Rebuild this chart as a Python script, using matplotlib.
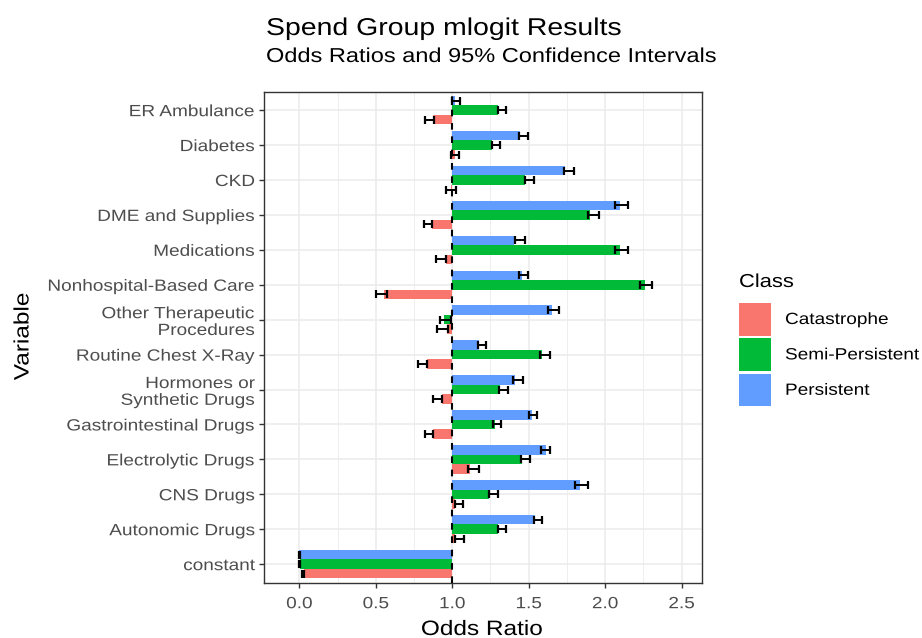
import matplotlib
matplotlib.use("Agg")
import matplotlib.pyplot as plt
from matplotlib.patches import Rectangle
from matplotlib.patheffects import AbstractPathEffect
from matplotlib.transforms import Affine2D
import numpy as np

plt.rcParams['font.family'] = ['Liberation Sans', 'DejaVu Sans']

variables = ["ER Ambulance", "Diabetes", "CKD", "DME and Supplies", "Medications",
             "Nonhospital-Based Care", "Other Therapeutic\nProcedures", "Routine Chest X-Ray",
             "Hormones or\nSynthetic Drugs", "Gastrointestinal Drugs", "Electrolytic Drugs",
             "CNS Drugs", "Autonomic Drugs", "constant"]

classes = ["Catastrophe", "Semi-Persistent", "Persistent"]
colors = ["#F8766D", "#00BA38", "#619CFF"]

# Odds ratio estimates
or_catastrophe = [0.874, 1.015, 0.990, 0.870, 0.957, 0.554, 0.967, 0.837, 0.930, 0.874, 1.113, 1.020, 1.020, 0.028]
or_semi        = [1.300, 1.261, 1.478, 1.902, 2.098, 2.261, 0.946, 1.587, 1.315, 1.278, 1.457, 1.239, 1.300, 0.002]
or_persistent  = [1.020, 1.441, 1.735, 2.098, 1.402, 1.457, 1.652, 1.174, 1.413, 1.522, 1.613, 1.837, 1.543, 0.001]

# 95% CI lower / upper
lo_catastrophe = [0.822, 0.989, 0.957, 0.815, 0.896, 0.504, 0.902, 0.778, 0.874, 0.822, 1.104, 1.017, 1.017, 0.020]
hi_catastrophe = [0.880, 1.043, 1.022, 0.870, 0.957, 0.576, 0.974, 0.837, 0.930, 0.874, 1.174, 1.070, 1.076, 0.028]
lo_semi        = [1.300, 1.257, 1.478, 1.887, 2.065, 2.228, 0.917, 1.576, 1.309, 1.267, 1.450, 1.239, 1.300, 0.000]
hi_semi        = [1.352, 1.313, 1.533, 1.957, 2.148, 2.309, 0.989, 1.637, 1.365, 1.322, 1.507, 1.300, 1.352, 0.005]
lo_persistent  = [1.000, 1.435, 1.728, 2.065, 1.409, 1.435, 1.626, 1.167, 1.398, 1.500, 1.583, 1.800, 1.533, 0.000]
hi_persistent  = [1.050, 1.496, 1.793, 2.148, 1.474, 1.496, 1.700, 1.222, 1.463, 1.554, 1.641, 1.891, 1.587, 0.005]

xticks = [0.0, 0.5, 1.0, 1.5, 2.0, 2.5]
xtick_labels = ["0.0", "0.5", "1.0", "1.5", "2.0", "2.5"]


class Stretch(AbstractPathEffect):
    """Widen glyphs along the text direction (reference font is wider)."""
    def __init__(self, sx=1.17, anchor="left"):
        super().__init__()
        self.sx = sx
        self.anchor = anchor

    def draw_path(self, renderer, gc, tpath, affine, rgbFace=None):
        try:
            ext = tpath.get_extents()
            x0, x1 = ext.x0, ext.x1
        except Exception:
            x0, x1 = 0.0, 0.0
        if self.anchor == "right":
            c = x1
        elif self.anchor == "center":
            c = (x0 + x1) / 2
        else:
            c = 0.0
        t = Affine2D().translate(-c, 0).scale(self.sx, 1).translate(c, 0) + affine
        renderer.draw_path(gc, tpath, t, rgbFace)


SX = 1.17
W, H = 922, 638
fig = plt.figure(figsize=(W / 100, H / 100), dpi=100)
ax = fig.add_axes([264 / W, 1 - 583 / H, (701.5 - 264) / W, (583 - 92) / H])

n = len(variables)
ypos = np.arange(n)
bh = 0.272
series = [
    (or_persistent, lo_persistent, hi_persistent, colors[2], -bh),
    (or_semi, lo_semi, hi_semi, colors[1], 0.0),
    (or_catastrophe, lo_catastrophe, hi_catastrophe, colors[0], bh),
]

# grid
for v in np.arange(0, 2.51, 0.25):
    ax.axvline(v, color="#EBEBEB", lw=1.1 if (v * 2) % 1 == 0 else 0.6, zorder=0)
for y in ypos:
    ax.axhline(y, color="#EBEBEB", lw=1.1, zorder=0)

for est, lo, hi, col, off in series:
    est = np.array(est); lo = np.array(lo); hi = np.array(hi)
    ax.barh(ypos + off, est - 1.0, left=1.0, height=bh, color=col, edgecolor="none", zorder=2)
    ax.errorbar((lo + hi) / 2, ypos + off, xerr=(hi - lo) / 2, fmt="none",
                ecolor="black", elinewidth=1.4, capsize=3.2, capthick=1.6, zorder=4)

ax.axvline(1.0, color="black", lw=1.5, linestyle=(0, (3.2, 3.2)), zorder=3)

ax.set_xlim(-0.231, 2.63)
ax.set_ylim(n - 1 + 0.54, -0.52)
ax.set_yticks(ypos)
ax.set_yticklabels(variables, fontsize=11.7, color="#4D4D4D", linespacing=1.15)
ax.set_xticks(xticks)
ax.set_xticklabels(xtick_labels, fontsize=11.7, color="#4D4D4D")
ax.tick_params(axis="both", length=3.5, width=1.0, color="#333333")
ax.tick_params(axis="y", pad=3)
ax.tick_params(axis="x", pad=6)
for lbl in ax.get_yticklabels():
    lbl.set_path_effects([Stretch(SX, "right")])
for lbl in ax.get_xticklabels():
    lbl.set_path_effects([Stretch(SX, "center")])
for s in ax.spines.values():
    s.set_color("#333333")
    s.set_linewidth(1.0)

fig.text(482 / W, 1 - 635 / H, "Odds Ratio", fontsize=15, ha="center", va="baseline",
         path_effects=[Stretch(SX, "center")])
fig.text(23 / W, 1 - 336.5 / H, "Variable", fontsize=15, ha="center", va="center", rotation=90,
         path_effects=[Stretch(SX, "center")])

fig.text(266 / W, 1 - 35 / H, "Spend Group mlogit Results", fontsize=17.5, ha="left", va="baseline",
         path_effects=[Stretch(SX, "left")])
fig.text(266 / W, 1 - 62 / H, "Odds Ratios and 95% Confidence Intervals", fontsize=14.5, ha="left",
         va="baseline", path_effects=[Stretch(SX, "left")])

# legend
fig.text(739 / W, 1 - 287 / H, "Class", fontsize=13.5, ha="left", va="baseline",
         path_effects=[Stretch(SX, "left")])
leg_order = [(classes[0], colors[0]), (classes[1], colors[1]), (classes[2], colors[2])]
for k, (lab, col) in enumerate(leg_order):
    top = 303 + k * 35.4
    fig.add_artist(Rectangle((739 / W, 1 - (top + 32.5) / H), 32 / W, 32.5 / H,
                             transform=fig.transFigure, facecolor=col, edgecolor="none"))
    fig.text(785 / W, 1 - (top + 16.5) / H, lab, fontsize=11.7, ha="left", va="center",
             path_effects=[Stretch(SX, "left")])

fig.savefig("out.png", dpi=100)
